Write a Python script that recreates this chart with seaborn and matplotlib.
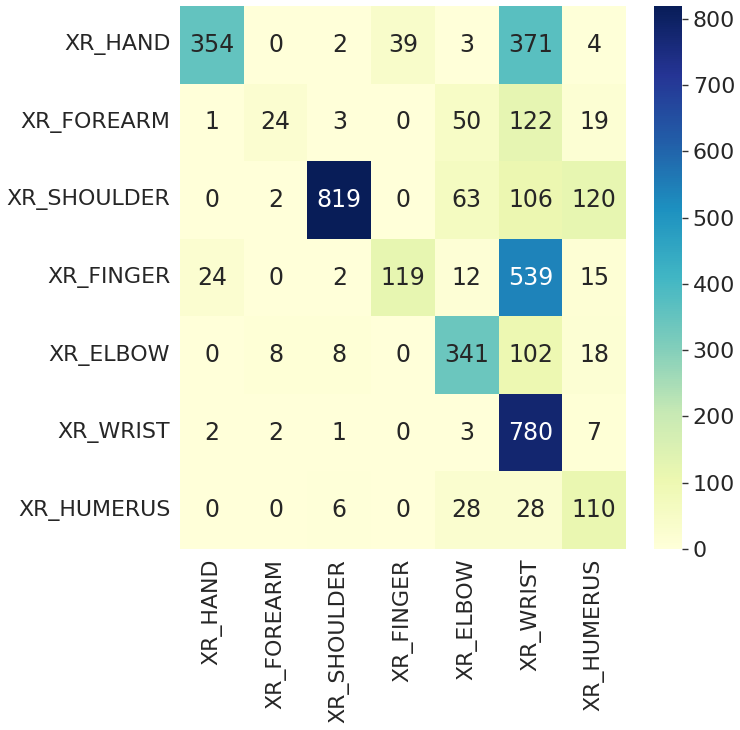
import numpy as np
import pandas as pd
import matplotlib
matplotlib.use('Agg')
import matplotlib.pyplot as plt
import seaborn as sns

# class labels and confusion counts (rows = true, cols = predicted)
labels = ['XR_HAND', 'XR_FOREARM', 'XR_SHOULDER', 'XR_FINGER',
          'XR_ELBOW', 'XR_WRIST', 'XR_HUMERUS']
row_hand = [354, 0, 2, 39, 3, 371, 4]
row_forearm = [1, 24, 3, 0, 50, 122, 19]
row_shoulder = [0, 2, 819, 0, 63, 106, 120]
row_finger = [24, 0, 2, 119, 12, 539, 15]
row_elbow = [0, 8, 8, 0, 341, 102, 18]
row_wrist = [2, 2, 1, 0, 3, 780, 7]
row_humerus = [0, 0, 6, 0, 28, 28, 110]

cm = pd.DataFrame([row_hand, row_forearm, row_shoulder, row_finger,
                   row_elbow, row_wrist, row_humerus],
                  index=labels, columns=labels)

sns.set(font_scale=1.45)
plt.rcParams['font.family'] = ['DejaVu Sans']

fig = plt.figure(figsize=(7.4, 7.3), dpi=100)
ax = fig.add_axes([0.2432, 0.2479, 0.6027, 0.7438])
cax = fig.add_axes([0.884, 0.2479, 0.038, 0.7438])

sns.heatmap(cm, annot=True, fmt='d', cmap='YlGnBu', ax=ax, cbar_ax=cax,
            annot_kws={'size': 17})
ax.tick_params(axis='both', length=0, pad=7)
cax.tick_params(length=4, width=1, color='#333333')
plt.setp(ax.get_yticklabels(), rotation=0)
plt.setp(ax.get_xticklabels(), rotation=90)

fig.savefig('out.png', dpi=100)
